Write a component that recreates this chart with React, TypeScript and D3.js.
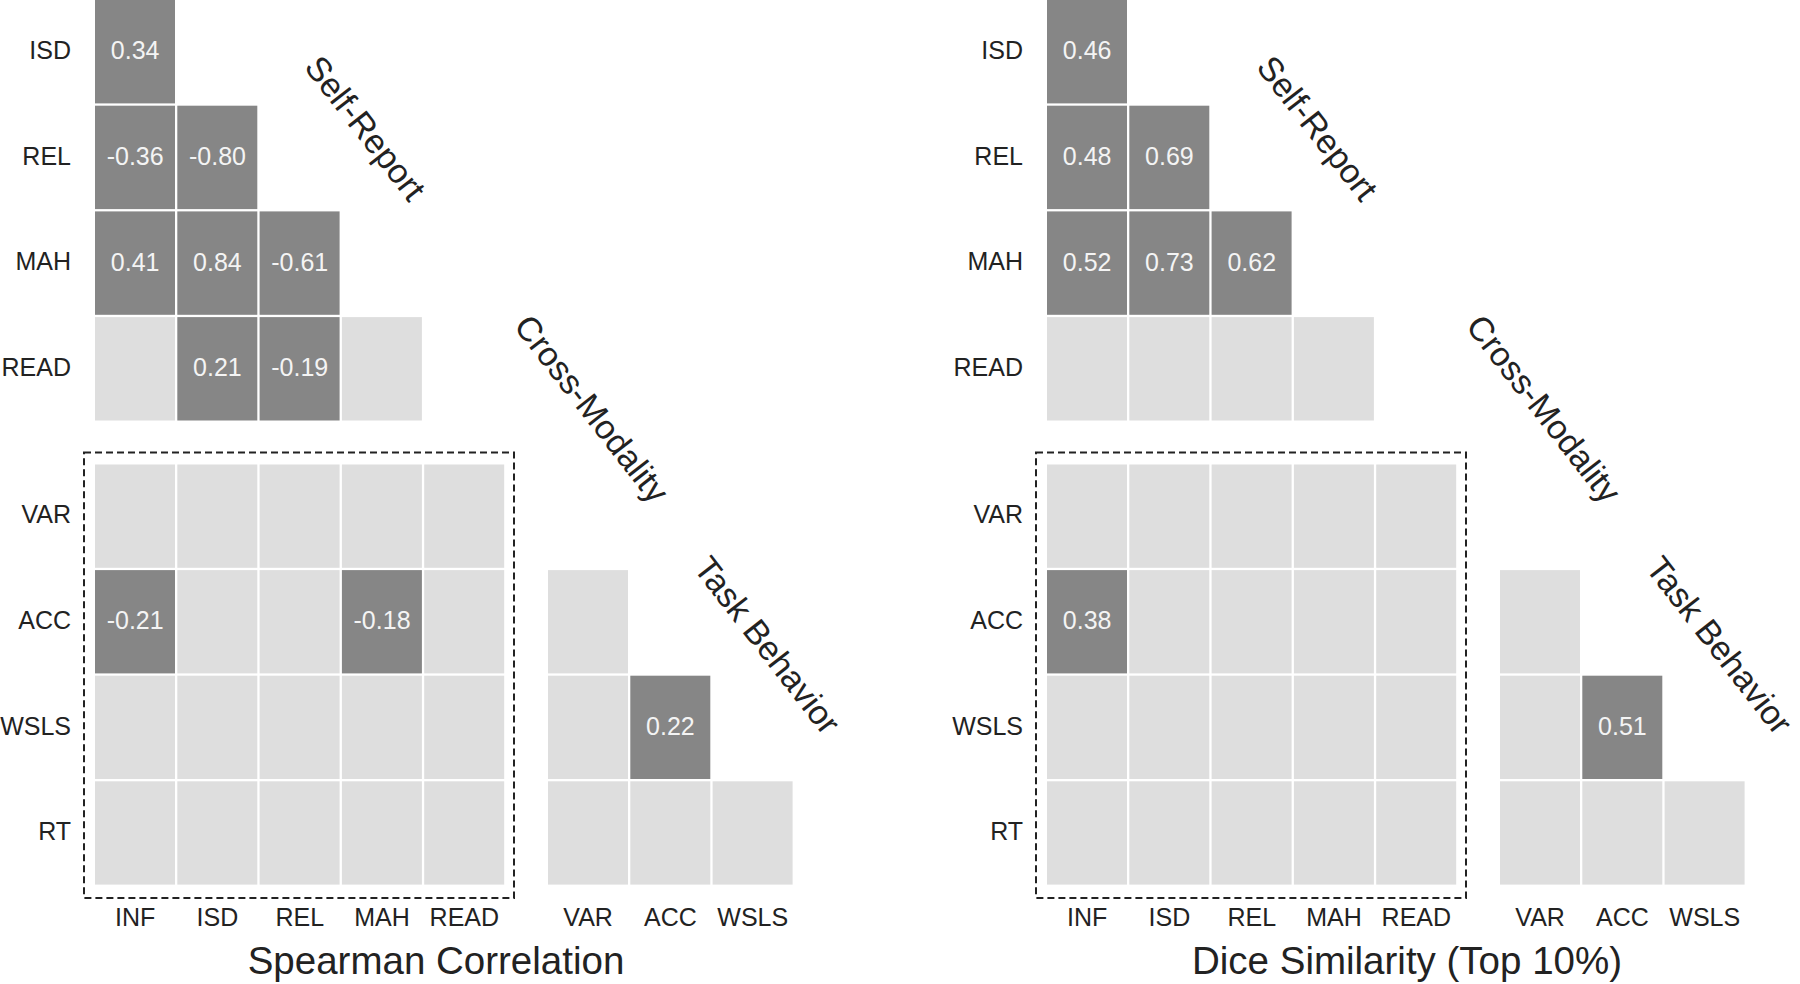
import React from "react";
import * as d3 from "d3";

// row / column categories
const selfRows = ["ISD", "REL", "MAH", "READ"];
const crossCols = ["INF", "ISD", "REL", "MAH", "READ"];
const crossRows = ["VAR", "ACC", "WSLS", "RT"];
const taskCols = ["VAR", "ACC", "WSLS"];
const taskRows = ["ACC", "WSLS", "RT"];

// null = not significant (light cell)
const spearmanSelf = [
  [0.34],
  [-0.36, -0.8],
  [0.41, 0.84, -0.61],
  [null, 0.21, -0.19, null],
];
const spearmanCross = [
  [null, null, null, null, null],
  [-0.21, null, null, -0.18, null],
  [null, null, null, null, null],
  [null, null, null, null, null],
];
const spearmanTask = [[null], [null, 0.22], [null, null, null]];

const diceSelf = [
  [0.46],
  [0.48, 0.69],
  [0.52, 0.73, 0.62],
  [null, null, null, null],
];
const diceCross = [
  [null, null, null, null, null],
  [0.38, null, null, null, null],
  [null, null, null, null, null],
  [null, null, null, null, null],
];
const diceTask = [[null], [null, 0.51], [null, null, null]];

const titles = ["Spearman Correlation", "Dice Similarity (Top 10%)"];

const fmt = d3
  .formatLocale({ decimal: ".", thousands: ",", grouping: [3], currency: ["", ""], minus: "-" })
  .format(".2f");

const DARK = "#868686";
const LIGHT = "#dedede";
const INK = "#222";
const FONT = "'Liberation Sans', Arial, Helvetica, sans-serif";

const Cells = ({ data, rows, cols, x, y }) => (
  <g>
    {data.map((row, i) =>
      row.map((v, j) => {
        const cx = x(cols[j]);
        const cy = y(rows[i]);
        const w = x.bandwidth();
        const h = y.bandwidth();
        return (
          <g key={`${i}-${j}`}>
            <rect
              x={cx + 1}
              y={cy + 1}
              width={w - 2.3}
              height={h - 2.3}
              fill={v === null ? LIGHT : DARK}
            />
            {v !== null && (
              <text
                x={cx + w / 2}
                y={cy + h / 2 - 1.5}
                textAnchor="middle"
                dominantBaseline="central"
                fill="#f4f4f4"
                fontSize={25}
              >
                {fmt(v)}
              </text>
            )}
          </g>
        );
      })
    )}
  </g>
);

const Panel = ({ ox, title, titleX, self, cross, task }) => {
  const stepX = 82.3;
  const x = d3.scaleBand().domain(crossCols).range([ox + 94, ox + 94 + 5 * stepX]);
  const yTop = d3.scaleBand().domain(selfRows).range([-1, -1 + 4 * 105.7]);
  const yBot = d3.scaleBand().domain(crossRows).range([463.5, 463.5 + 4 * 105.6]);
  const xTask = d3.scaleBand().domain(taskCols).range([ox + 547, ox + 547 + 3 * stepX]);

  const angle = (Math.atan2(yTop.step(), x.step()) * 180) / Math.PI;
  const [x0, x1] = x.range();
  const [yb0, yb1] = yBot.range();

  const groupLabels = [
    { text: "Self-Report", cx: x0 + 3.3 * x.step(), cy: yTop.range()[0] + 1.22 * yTop.step() },
    { text: "Cross-Modality", cx: x0 + 6.05 * x.step(), cy: yb0 - 0.52 * yBot.step() },
    { text: "Task Behavior", cx: xTask.range()[0] + 2.68 * xTask.step(), cy: yb0 + 1.72 * yBot.step() },
  ];

  return (
    <g fontFamily={FONT}>
      <Cells data={self} rows={selfRows} cols={crossCols} x={x} y={yTop} />
      <Cells data={cross} rows={crossRows} cols={crossCols} x={x} y={yBot} />
      <Cells data={task} rows={taskRows} cols={taskCols} x={xTask} y={yBot} />

      <rect
        x={x0 - 10}
        y={yb0 - 11}
        width={x1 - x0 + 18.5}
        height={yb1 - yb0 + 23}
        fill="none"
        stroke={INK}
        strokeWidth={2}
        strokeDasharray="7 4"
      />

      {selfRows.map((r) => (
        <text key={"rt" + r} x={ox + 71} y={yTop(r) + yTop.bandwidth() / 2 - 2} textAnchor="end"
          dominantBaseline="central" fontSize={25} fill={INK}>
          {r}
        </text>
      ))}
      {crossRows.map((r) => (
        <text key={"rb" + r} x={ox + 71} y={yBot(r) + yBot.bandwidth() / 2 - 2} textAnchor="end"
          dominantBaseline="central" fontSize={25} fill={INK}>
          {r}
        </text>
      ))}
      {crossCols.map((c) => (
        <text key={"cx" + c} x={x(c) + x.bandwidth() / 2} y={926} textAnchor="middle"
          fontSize={25} fill={INK}>
          {c}
        </text>
      ))}
      {taskCols.map((c) => (
        <text key={"ct" + c} x={xTask(c) + xTask.bandwidth() / 2} y={926} textAnchor="middle"
          fontSize={25} fill={INK}>
          {c}
        </text>
      ))}

      {groupLabels.map((g) => (
        <text key={g.text} transform={`translate(${g.cx},${g.cy}) rotate(${angle})`}
          textAnchor="middle" dominantBaseline="central" fontSize={34} fill={INK}>
          {g.text}
        </text>
      ))}

      <text x={titleX} y={974} textAnchor="middle" fontSize={38.5} fill={INK}>
        {title}
      </text>
    </g>
  );
};

export default function App() {
  return (
    <svg width={1800} height={984} style={{ position: "absolute", left: 0, top: 0, background: "#fff" }}>
      <rect width={1800} height={984} fill="#fff" />
      <Panel ox={0} title={titles[0]} titleX={436} self={spearmanSelf} cross={spearmanCross} task={spearmanTask} />
      <Panel ox={952} title={titles[1]} titleX={1407} self={diceSelf} cross={diceCross} task={diceTask} />
    </svg>
  );
}
